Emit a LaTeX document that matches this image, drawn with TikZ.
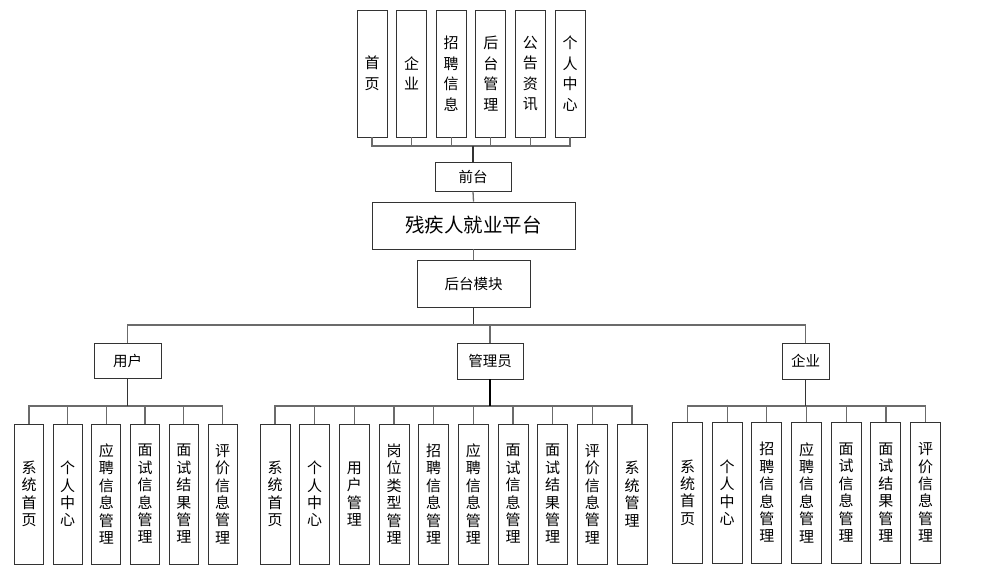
\documentclass[tikz,border=0pt]{standalone}
\usepackage{fontspec}
\newfontfamily\cjk{Noto Sans CJK SC}
\usetikzlibrary{positioning}

\begin{document}
\begin{tikzpicture}[x=1pt, y=-1pt,
    module/.style={draw=black!80, line width=0.9pt, fill=white, minimum width=30pt, minimum height=127pt, inner sep=0pt, align=center, font=\cjk\fontsize{15}{20.5}\selectfont},
    leaf/.style={module, minimum height=140pt, font=\cjk\fontsize{15}{17.4}\selectfont},
    group/.style={draw=black!80, line width=0.9pt, fill=white, inner sep=0pt, font=\cjk\fontsize{14.5}{16}\selectfont},
    link/.style={draw=black!58, line width=1.3pt},
  ]
  \useasboundingbox (0,0) rectangle (985,575);

  % front end
  \foreach \t [count=\i] in {{首\\页}, {企\\业}, {招\\聘\\信\\息}, {后\\台\\管\\理}, {公\\告\\资\\讯}, {个\\人\\中\\心}}
    \node[module] (f\i) at ({372+39.6*(\i-1)}, 73.5) {\t};
  \node[group, minimum width=76pt, minimum height=29pt] (front) at (473, 176.5) {前台};
  \node[group, minimum width=203pt, minimum height=47pt, font=\cjk\fontsize{19.5}{21}\selectfont] (plat) at (473.5, 225.5) {残疾人就业平台};
  \node[group, minimum width=113pt, minimum height=47pt] (back) at (473.5, 283.5) {后台模块};

  % roles
  \node[group, minimum width=67pt, minimum height=35pt] (user) at (127.5, 360.5) {用户};
  \node[group, minimum width=66pt, minimum height=36pt] (admin) at (490, 361) {管理员};
  \node[group, minimum width=47pt, minimum height=36pt] (corp) at (805.5, 361) {企业};

  % leaves
  \foreach \t [count=\i] in {{系\\统\\首\\页}, {个\\人\\中\\心}, {应\\聘\\信\\息\\管\\理}, {面\\试\\信\\息\\管\\理}, {面\\试\\结\\果\\管\\理}, {评\\价\\信\\息\\管\\理}}
    \node[leaf, minimum width=29pt] (u\i) at ({29+38.7*(\i-1)}, 494) {\t};
  \foreach \t [count=\i] in {{系\\统\\首\\页}, {个\\人\\中\\心}, {用\\户\\管\\理}, {岗\\位\\类\\型\\管\\理}, {招\\聘\\信\\息\\管\\理}, {应\\聘\\信\\息\\管\\理}, {面\\试\\信\\息\\管\\理}, {面\\试\\结\\果\\管\\理}, {评\\价\\信\\息\\管\\理}, {系\\统\\管\\理}}
    \node[leaf] (a\i) at ({275+39.67*(\i-1)}, 494) {\t};
  \foreach \t [count=\i] in {{系\\统\\首\\页}, {个\\人\\中\\心}, {招\\聘\\信\\息\\管\\理}, {应\\聘\\信\\息\\管\\理}, {面\\试\\信\\息\\管\\理}, {面\\试\\结\\果\\管\\理}, {评\\价\\信\\息\\管\\理}}
    \node[leaf, minimum height=141pt] (c\i) at ({687.5+39.67*(\i-1)}, 492.5) {\t};

  % connectors
  \coordinate (fbus) at (473, 146);
  \foreach \i in {1,...,6}
    \draw[link] (f\i.south) |- (fbus);
  \draw[link, black!80] (fbus) -- (front.north);
  \draw[link] (front.south) -- (plat.north);
  \draw[link] (plat.south) -- (back.north);
  \coordinate (bbus) at (473.5, 325);
  \draw[link, black!80] (back.south) -- (bbus);
  \draw[link] (bbus) -| (user.north);
  \draw[link] (bbus) -| (admin.north);
  \draw[link] (bbus) -| (corp.north);
  \coordinate (ubus) at (127.5, 406);
  \coordinate (abus) at (490, 406);
  \coordinate (cbus) at (805.5, 406);
  \foreach \i in {1,...,6}
    \draw[link] (ubus) -| (u\i.north);
  \foreach \i in {1,...,10}
    \draw[link] (abus) -| (a\i.north);
  \foreach \i in {1,...,7}
    \draw[link] (cbus) -| (c\i.north);
  \draw[link, black!80] (user.south) -- (ubus);
  \draw[link, black, line width=2pt] (admin.south) -- (abus);
  \draw[link, black!80, line width=1.6pt] (corp.south) -- (cbus);
\end{tikzpicture}
\end{document}
